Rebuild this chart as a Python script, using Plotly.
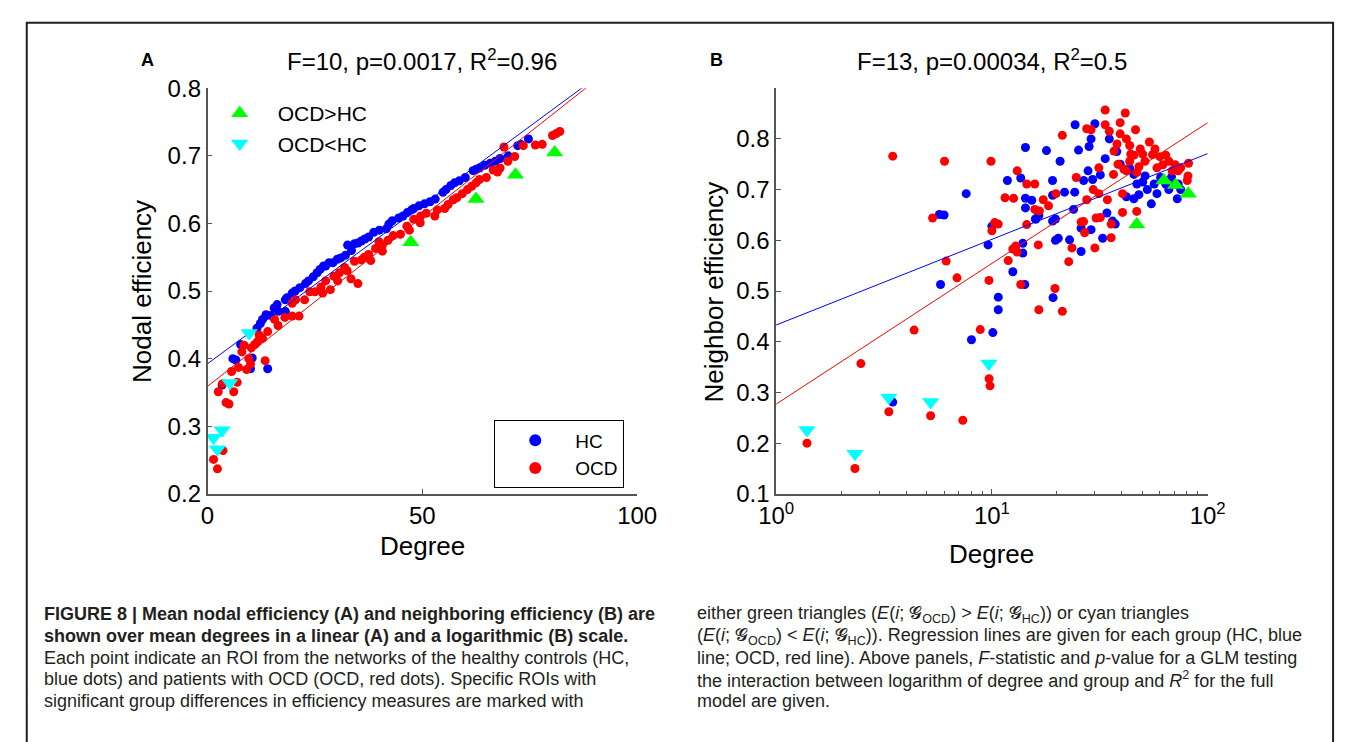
import numpy as np
import plotly.graph_objects as go

# ---------------- Panel A (linear degree vs nodal efficiency) ----------------
a_hc_deg = [3.4, 5.9, 6.6, 7.7, 10.0, 10.4, 14.0, 11.5, 12.3, 12.8, 13.6, 14.7, 15.5, 16.2, 16.5,
            18.1, 18.1, 18.5, 19.7, 20.4, 21.5, 22.8, 23.5, 24.6, 25.5, 26.2, 27.0, 27.5, 28.3, 29.2,
            30.2, 31.0, 32.1, 32.6, 33.5, 34.2, 35.0, 35.8, 36.6, 37.5, 38.7, 40.0, 41.6, 42.2, 43.0,
            44.5, 45.5, 46.5, 47.5, 48.0, 49.2, 50.5, 51.8, 53.0, 54.8, 55.5, 56.6, 57.5, 58.6, 60.0,
            61.8, 62.5, 63.3, 64.5, 65.8, 67.0, 68.1, 70.0, 72.2, 72.9, 74.7]
a_hc_eff = [0.361, 0.400, 0.398, 0.421, 0.385, 0.401, 0.385, 0.445, 0.452, 0.458, 0.465, 0.464, 0.475, 0.480, 0.470,
            0.487, 0.470, 0.490, 0.497, 0.500, 0.505, 0.511, 0.515, 0.521, 0.527, 0.532, 0.537, 0.537, 0.542, 0.542,
            0.547, 0.549, 0.553, 0.568, 0.560, 0.570, 0.571, 0.574, 0.577, 0.580, 0.587, 0.590, 0.592, 0.599, 0.604,
            0.608, 0.611, 0.616, 0.620, 0.622, 0.626, 0.629, 0.632, 0.636, 0.646, 0.650, 0.656, 0.660, 0.663, 0.668,
            0.678, 0.680, 0.682, 0.686, 0.689, 0.692, 0.696, 0.700, 0.715, 0.717, 0.725]

a_ocd_deg = [1.4, 2.3, 3.6, 2.5, 4.3, 5.0, 6.1, 6.9, 3.5, 5.6, 7.2, 9.1, 10.0, 9.6, 10.2,
             11.0, 11.6, 12.8, 12.0, 13.4, 14.0, 15.6, 16.4, 18.0, 19.7, 21.3, 19.7, 20.5, 22.6, 23.8,
             25.0, 26.4, 26.8, 27.5, 28.6, 29.4, 30.3, 30.7, 31.9, 32.5, 33.4, 34.2, 35.0, 35.8, 36.5,
             37.5, 38.0, 39.1, 39.9, 40.7, 40.7, 42.0, 43.2, 44.9, 46.4, 47.0, 48.0, 49.5, 49.6, 50.9,
             52.9, 53.5, 55.2, 56.0, 57.2, 58.0, 59.3, 60.5, 61.5, 62.5, 63.3, 64.9, 66.5, 67.5, 68.1,
             69.0, 69.9, 71.5, 73.5, 76.3, 77.9, 80.3, 81.2, 82.0, 8.0, 8.5]
a_ocd_eff = [0.251, 0.237, 0.264, 0.351, 0.335, 0.333, 0.351, 0.365, 0.363, 0.381, 0.387, 0.384, 0.392, 0.400, 0.416,
             0.421, 0.425, 0.430, 0.435, 0.397, 0.440, 0.458, 0.449, 0.461, 0.463, 0.463, 0.482, 0.487, 0.487, 0.499,
             0.499, 0.506, 0.497, 0.515, 0.502, 0.522, 0.515, 0.527, 0.535, 0.530, 0.518, 0.544, 0.511, 0.546, 0.550,
             0.554, 0.545, 0.563, 0.573, 0.559, 0.568, 0.575, 0.582, 0.584, 0.596, 0.590, 0.606, 0.601, 0.611, 0.615,
             0.611, 0.620, 0.622, 0.628, 0.635, 0.638, 0.644, 0.650, 0.655, 0.660, 0.665, 0.668, 0.679, 0.676, 0.682,
             0.713, 0.692, 0.699, 0.715, 0.716, 0.717, 0.730, 0.733, 0.736, 0.410, 0.420]

a_up_deg = [47.3, 62.5, 71.7, 80.8]          # OCD>HC
a_up_eff = [0.572, 0.636, 0.672, 0.705]
a_dn_deg = [1.4, 2.3, 3.4, 5.2, 9.7]         # OCD<HC
a_dn_eff = [0.283, 0.266, 0.294, 0.364, 0.438]

a_reg_hc = [0.3925, 0.00468]    # intercept, slope
a_reg_ocd = [0.359, 0.00501]

# ---------------- Panel B (log degree vs neighbor efficiency) ----------------
b_hc_deg = [3.47, 5.71, 6.0, 5.78, 8.04, 9.6, 10.0, 10.1, 10.7, 10.7, 12.5, 13.9, 13.9, 14.2, 14.3,
            15.9, 16.5, 19.1, 19.2, 19.7, 20.3, 22.9, 23.9, 25.9, 25.9, 28.8, 32.6, 34.1, 36.2, 37.3,
            24.3, 30.0, 28.2, 28.8, 25.2, 29.3, 33.5, 35.0, 37.9, 39.3, 43.5, 45.5, 47.0, 51.3, 52.5,
            56.5, 58.2, 60.5, 63.9, 66.0, 70.6, 72.3, 73.0, 14.3, 17.9, 11.8, 13.6, 14.3, 15.3, 19.1,
            19.1, 20.7, 21.7, 24.2, 26.6, 27.9, 31.8, 7.6, 19.7, 16.0, 42.0, 45.5, 54.8, 48.0, 50.0,
            62.0, 68.0, 75.0]
b_hc_eff = [0.281, 0.651, 0.650, 0.513, 0.404, 0.591, 0.628, 0.418, 0.488, 0.463, 0.538, 0.594, 0.575, 0.513, 0.664,
            0.642, 0.649, 0.638, 0.487, 0.600, 0.604, 0.601, 0.661, 0.578, 0.624, 0.621, 0.604, 0.654, 0.638, 0.632,
            0.828, 0.830, 0.785, 0.800, 0.778, 0.720, 0.761, 0.800, 0.775, 0.750, 0.742, 0.730, 0.711, 0.727, 0.700,
            0.711, 0.692, 0.724, 0.711, 0.700, 0.711, 0.682, 0.711, 0.783, 0.777, 0.718, 0.723, 0.683, 0.679, 0.718,
            0.689, 0.756, 0.695, 0.695, 0.718, 0.737, 0.729, 0.692, 0.642, 0.642, 0.686, 0.682, 0.672, 0.690, 0.715,
            0.720, 0.725, 0.700]

b_ocd_deg = [1.39, 2.32, 3.33, 5.2, 7.33, 9.8, 9.7, 2.47, 4.36, 5.31, 6.14, 6.89, 8.83, 9.69, 10.0,
             10.7, 11.9, 12.5, 12.9, 13.1, 13.6, 14.5, 15.8, 16.4, 16.5, 16.6, 19.6, 21.2, 22.7, 23.5,
             25.9, 26.6, 26.9, 30.0, 30.4, 31.8, 35.7, 35.7, 40.3, 46.9, 3.47, 6.03, 9.9, 13.1, 11.5,
             12.6, 10.3, 14.5, 15.8, 17.3, 19.8, 21.2, 24.6, 27.5, 28.8, 29.5, 31.3, 33.5, 33.5, 35.0,
             39.3, 41.5, 39.3, 36.8, 38.4, 36.6, 40.9, 43.5, 46.3, 45.5, 48.7, 51.2, 53.7, 55.5, 58.2,
             62.0, 63.9, 66.0, 68.4, 70.6, 73.0, 75.0, 80.4, 81.0, 81.5, 43.5, 42.0, 47.0, 40.3, 34.3,
             31.3, 27.5, 18.3, 44.0, 50.0, 57.0, 60.0, 38.0, 42.0, 48.0]
b_ocd_eff = [0.200, 0.150, 0.262, 0.254, 0.245, 0.313, 0.327, 0.357, 0.423, 0.644, 0.559, 0.526, 0.424, 0.521, 0.619,
             0.632, 0.560, 0.583, 0.589, 0.577, 0.513, 0.631, 0.661, 0.591, 0.463, 0.658, 0.505, 0.460, 0.558, 0.585,
             0.636, 0.637, 0.615, 0.585, 0.644, 0.645, 0.605, 0.632, 0.655, 0.657, 0.766, 0.756, 0.756, 0.737, 0.684,
             0.683, 0.635, 0.711, 0.711, 0.680, 0.692, 0.807, 0.724, 0.820, 0.818, 0.700, 0.743, 0.828, 0.857, 0.815,
             0.832, 0.851, 0.810, 0.776, 0.750, 0.730, 0.740, 0.787, 0.818, 0.768, 0.780, 0.756, 0.794, 0.769, 0.743,
             0.749, 0.768, 0.756, 0.737, 0.749, 0.737, 0.743, 0.718, 0.727, 0.752, 0.756, 0.737, 0.734, 0.692, 0.680,
             0.692, 0.680, 0.668, 0.770, 0.770, 0.780, 0.765, 0.790, 0.800, 0.745]

b_up_deg = [46.9, 62.7, 71.0, 81.3]
b_up_eff = [0.631, 0.718, 0.709, 0.692]
b_dn_deg = [1.39, 2.32, 3.33, 5.2, 9.69]
b_dn_eff = [0.226, 0.179, 0.290, 0.281, 0.357]

b_reg_hc = [0.433, 0.169]     # intercept, slope per log10(degree)
b_reg_ocd = [0.277, 0.2775]

a_title = "F=10, p=0.0017, R<sup>2</sup>=0.96"
b_title = "F=13, p=0.00034, R<sup>2</sup>=0.5"
a_yticks = [0.2, 0.3, 0.4, 0.5, 0.6, 0.7, 0.8]
b_yticks = [0.1, 0.2, 0.3, 0.4, 0.5, 0.6, 0.7, 0.8]
a_xticks = [0, 50, 100]
b_xticks = [1, 10, 100]
b_xticktext = ["10<sup>0</sup>", "10<sup>1</sup>", "10<sup>2</sup>"]

G = "𝓖"
caption_left = [
    "<b>FIGURE 8 | Mean nodal efficiency (A) and neighboring efficiency (B) are</b>",
    "<b>shown over mean degrees in a linear (A) and a logarithmic (B) scale.</b>",
    "Each point indicate an ROI from the networks of the healthy controls (HC,",
    "blue dots) and patients with OCD (OCD, red dots). Specific ROIs with",
    "significant group differences in efficiency measures are marked with",
]
caption_right = [
    f"either green triangles (<i>E</i>(<i>i</i>; {G}<sub>OCD</sub>) &gt; <i>E</i>(<i>i</i>; {G}<sub>HC</sub>)) or cyan triangles",
    f"(<i>E</i>(<i>i</i>; {G}<sub>OCD</sub>) &lt; <i>E</i>(<i>i</i>; {G}<sub>HC</sub>)). Regression lines are given for each group (HC, blue",
    "line; OCD, red line). Above panels, <i>F</i>-statistic and <i>p</i>-value for a GLM testing",
    "the interaction between logarithm of degree and group and <i>R</i><sup>2</sup> for the full",
    "model are given.",
]

# ---------------- geometry helpers (pixel -> paper) ----------------
W, H = 1356, 742
def px(x):
    return x / W
def py(y):
    return 1 - y / H

BLUE, RED, GREEN, CYAN = "#0000ff", "#ff0000", "#00ff00", "#00ffff"
FONT = "Liberation Sans, Arial, Helvetica, sans-serif"
CAPFONT = "Liberation Sans Narrow, Arial Narrow, Liberation Sans, sans-serif"

fig = go.Figure()

# Panel A
fig.add_trace(go.Scatter(x=a_hc_deg, y=a_hc_eff, mode="markers", name="HC",
                         marker=dict(color=BLUE, size=9), xaxis="x", yaxis="y", legend="legend"))
fig.add_trace(go.Scatter(x=a_ocd_deg, y=a_ocd_eff, mode="markers", name="OCD",
                         marker=dict(color=RED, size=9), xaxis="x", yaxis="y", legend="legend"))
xa = np.array([0.0, 100.0])
fig.add_trace(go.Scatter(x=xa, y=a_reg_hc[0] + a_reg_hc[1] * xa, mode="lines", showlegend=False,
                         line=dict(color=BLUE, width=1), xaxis="x", yaxis="y"))
fig.add_trace(go.Scatter(x=xa, y=a_reg_ocd[0] + a_reg_ocd[1] * xa, mode="lines", showlegend=False,
                         line=dict(color=RED, width=1), xaxis="x", yaxis="y"))
fig.add_trace(go.Scatter(x=a_up_deg, y=a_up_eff, mode="markers", name="OCD&gt;HC",
                         marker=dict(color=GREEN, size=15, symbol="triangle-up"),
                         xaxis="x", yaxis="y", legend="legend2"))
fig.add_trace(go.Scatter(x=a_dn_deg, y=a_dn_eff, mode="markers", name="OCD&lt;HC",
                         marker=dict(color=CYAN, size=15, symbol="triangle-down"),
                         xaxis="x", yaxis="y", legend="legend2"))

# Panel B
fig.add_trace(go.Scatter(x=b_hc_deg, y=b_hc_eff, mode="markers", showlegend=False,
                         marker=dict(color=BLUE, size=9), xaxis="x2", yaxis="y2"))
fig.add_trace(go.Scatter(x=b_ocd_deg, y=b_ocd_eff, mode="markers", showlegend=False,
                         marker=dict(color=RED, size=9), xaxis="x2", yaxis="y2"))
xb = np.array([1.0, 100.0])
fig.add_trace(go.Scatter(x=xb, y=b_reg_hc[0] + b_reg_hc[1] * np.log10(xb), mode="lines", showlegend=False,
                         line=dict(color=BLUE, width=1), xaxis="x2", yaxis="y2"))
fig.add_trace(go.Scatter(x=xb, y=b_reg_ocd[0] + b_reg_ocd[1] * np.log10(xb), mode="lines", showlegend=False,
                         line=dict(color=RED, width=1), xaxis="x2", yaxis="y2"))
fig.add_trace(go.Scatter(x=b_up_deg, y=b_up_eff, mode="markers", showlegend=False,
                         marker=dict(color=GREEN, size=15, symbol="triangle-up"), xaxis="x2", yaxis="y2"))
fig.add_trace(go.Scatter(x=b_dn_deg, y=b_dn_eff, mode="markers", showlegend=False,
                         marker=dict(color=CYAN, size=15, symbol="triangle-down"), xaxis="x2", yaxis="y2"))

axis_common = dict(showline=True, linecolor="#555555", linewidth=1.5, ticks="inside", ticklen=5,
                   tickcolor="#555555", tickwidth=1, showgrid=False, zeroline=False,
                   tickfont=dict(family=FONT, size=24, color="black"))
Y0, Y1 = 77, 498
fig.update_layout(
    xaxis=dict(domain=[px(195), px(637)], range=[0, 100], tickvals=a_xticks, anchor="y",
               ticklabelstandoff=0, **axis_common),
    yaxis=dict(domain=[py(Y1), py(Y0)], range=[0.2, 0.8], tickvals=a_yticks,
               ticktext=[f"{v:.1f}" for v in a_yticks], anchor="x", **axis_common),
    xaxis2=dict(domain=[px(780), px(1224)], type="log", range=[0, 2], tickvals=b_xticks,
                ticktext=b_xticktext, anchor="y2",
                minor=dict(ticks="inside", ticklen=3, tickcolor="#555555",
                           tickvals=[2, 3, 4, 5, 6, 7, 8, 9, 20, 30, 40, 50, 60, 70, 80, 90]),
                **axis_common),
    yaxis2=dict(domain=[py(Y1), py(Y0)], range=[0.1, 0.9], tickvals=b_yticks,
                ticktext=[f"{v:.1f}" for v in b_yticks], anchor="x2", **axis_common),
)

fig.update_layout(
    width=W, height=H, autosize=False,
    margin=dict(l=0, r=0, t=0, b=0),
    paper_bgcolor="white", plot_bgcolor="white",
    font=dict(family=FONT, color="black"),
    legend=dict(x=px(490), y=py(457), xanchor="left", yanchor="middle",
                bordercolor="black", borderwidth=1, bgcolor="white",
                font=dict(family=FONT, size=19, color="black"),
                itemsizing="constant", itemwidth=70),
    legend2=dict(x=px(189), y=py(82), xanchor="left", yanchor="top",
                 borderwidth=0, bgcolor="rgba(0,0,0,0)",
                 font=dict(family=FONT, size=21, color="black"),
                 itemsizing="trace", itemwidth=66),
)

ann = []
def add_text(text, x, y, size, angle=0, xanchor="center", family=FONT, color="black"):
    ann.append(dict(text=text, x=px(x), y=py(y), xref="paper", yref="paper", showarrow=False,
                    textangle=angle, align="left", font=dict(family=family, size=size, color=color),
                    xanchor=xanchor, yanchor="middle"))

add_text(a_title, 416, 48, 24)
add_text(b_title, 1002, 48, 24)
add_text("<b>A</b>", 133, 48, 18)
add_text("<b>B</b>", 719, 48, 18)
add_text("Nodal efficiency", 127, 288, 26, angle=-90)
add_text("Neighbor efficiency", 716, 288, 26, angle=-90)
add_text("Degree", 416, 552, 26)
add_text("Degree", 1002, 560, 26)

line_y = [623, 645.5, 668, 690.5, 713]
for t, yy in zip(caption_left, line_y):
    add_text(t, 25, yy, 18, xanchor="left", family=CAPFONT, color="#231f20")
for t, yy in zip(caption_right, line_y):
    add_text(t, 697, yy, 18, xanchor="left", family=CAPFONT, color="#231f20")
fig.update_layout(annotations=ann)

fig.add_shape(type="rect", xref="paper", yref="paper", x0=px(9), x1=px(1353), y0=-0.05, y1=py(9),
              line=dict(color="#231f20", width=2), fillcolor="rgba(0,0,0,0)", layer="above")

fig.write_html("out.html", config={"displayModeBar": False},
               post_script="document.body.style.margin='0';document.body.style.overflow='hidden';")
